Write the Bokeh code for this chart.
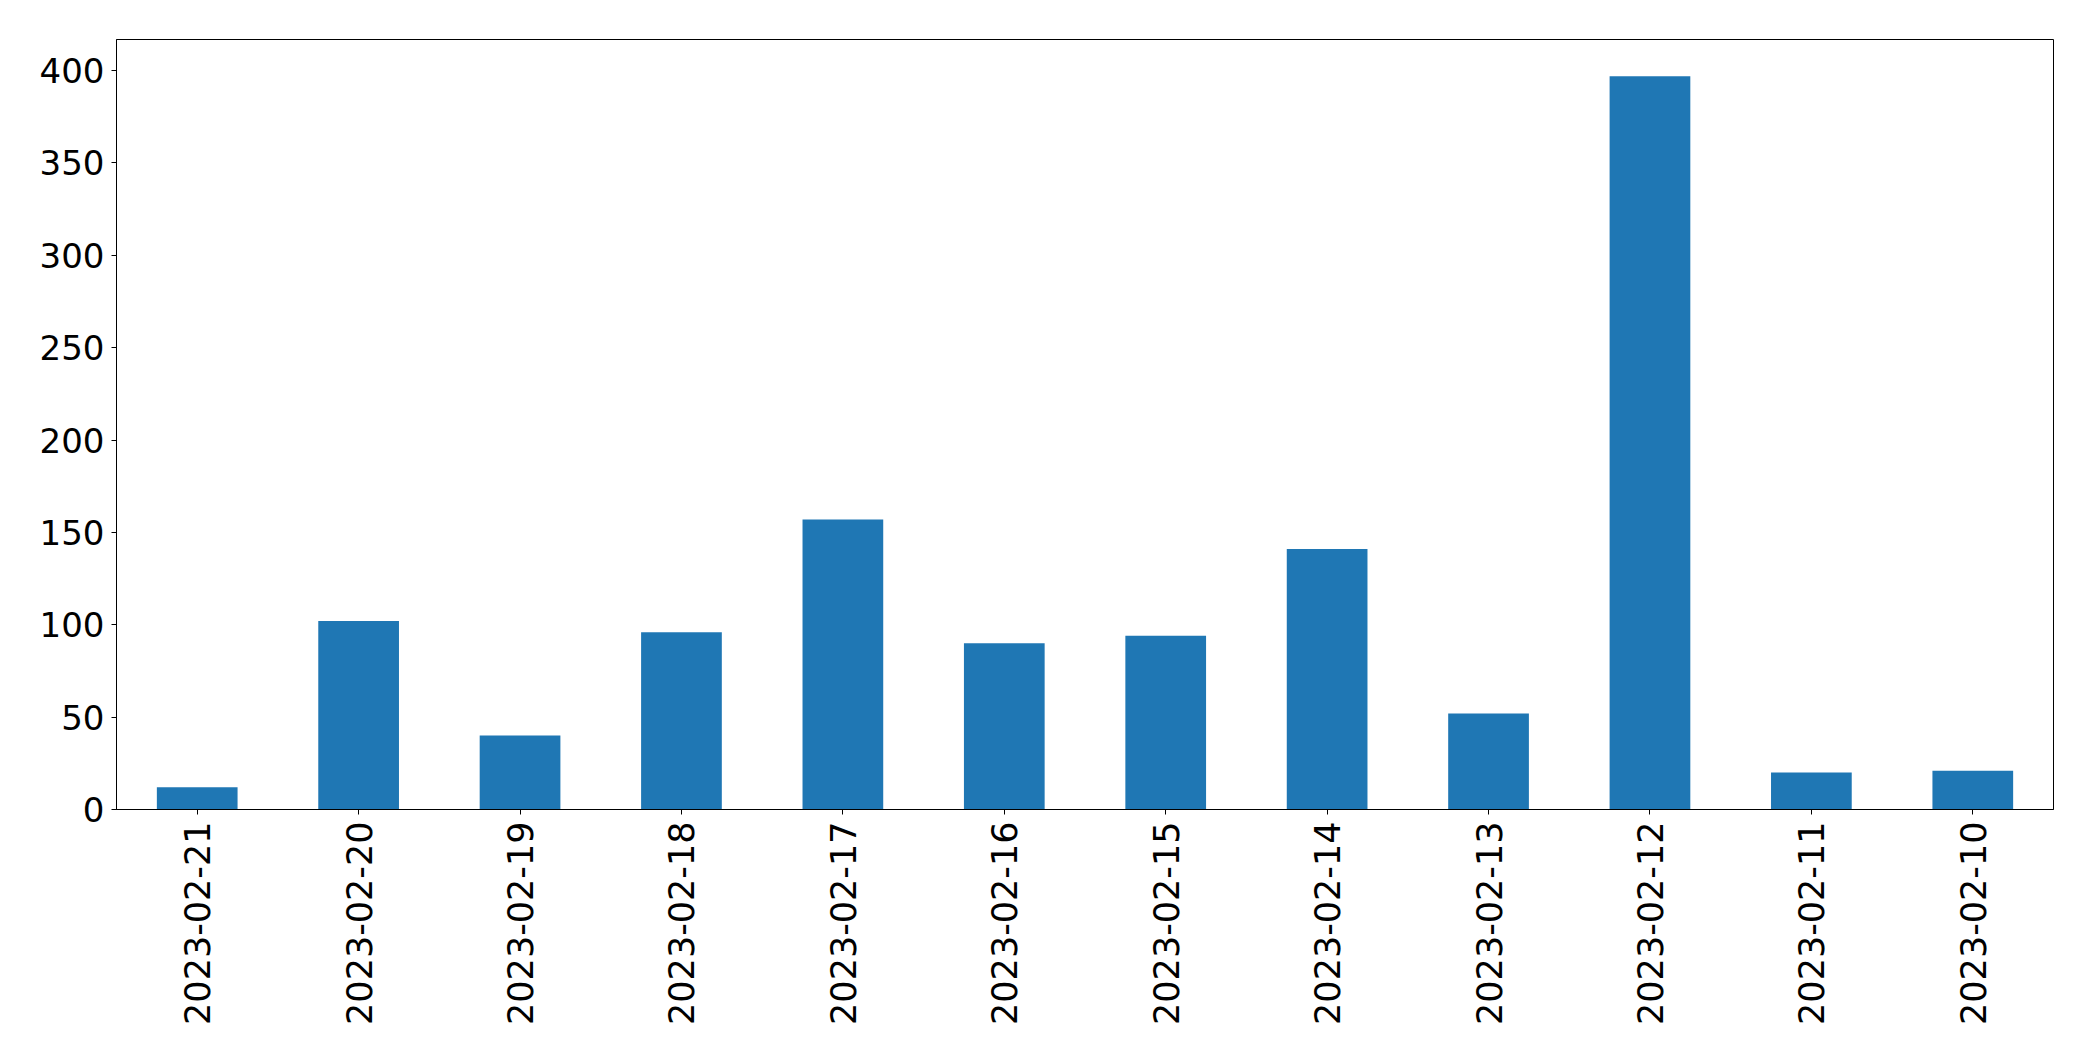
import math
from bokeh.plotting import figure
from bokeh.models import Range1d, FactorRange, FixedTicker
from bokeh.embed import file_html
from bokeh.resources import INLINE

dates = ["2023-02-21", "2023-02-20", "2023-02-19", "2023-02-18", "2023-02-17", "2023-02-16",
         "2023-02-15", "2023-02-14", "2023-02-13", "2023-02-12", "2023-02-11", "2023-02-10"]
counts = [12, 102, 40, 96, 157, 90, 94, 141, 52, 397, 20, 21]
y_ticks = [0, 50, 100, 150, 200, 250, 300, 350, 400]

W, H = 2077, 1040
p = figure(width=W, height=H, output_backend="svg", toolbar_location=None,
           x_range=FactorRange(factors=dates, range_padding=0),
           y_range=Range1d(0, max(counts) * 1.05),
           min_border_left=116, min_border_top=39,
           min_border_right=W - 2053, min_border_bottom=H - 809)

p.vbar(x=dates, top=counts, width=0.5, color="#1f77b4", line_color=None)

p.grid.visible = False
p.outline_line_color = "black"
p.outline_line_width = 1
p.outline_line_alpha = 1

for ax in (p.xaxis[0], p.yaxis[0]):
    ax.major_label_text_font = "DejaVu Sans"
    ax.major_label_text_font_size = "34px"
    ax.major_label_text_color = "black"
    ax.major_tick_in = 0
    ax.major_tick_out = 5
    ax.major_tick_line_color = "black"
    ax.minor_tick_line_color = None
    ax.axis_line_color = "black"
    ax.major_label_standoff = 7

p.xaxis.major_label_text_font_size = "35px"
p.xaxis.major_label_orientation = math.pi / 2
p.yaxis.ticker = FixedTicker(ticks=y_ticks)

open("out.html", "w").write(file_html(p, INLINE))
